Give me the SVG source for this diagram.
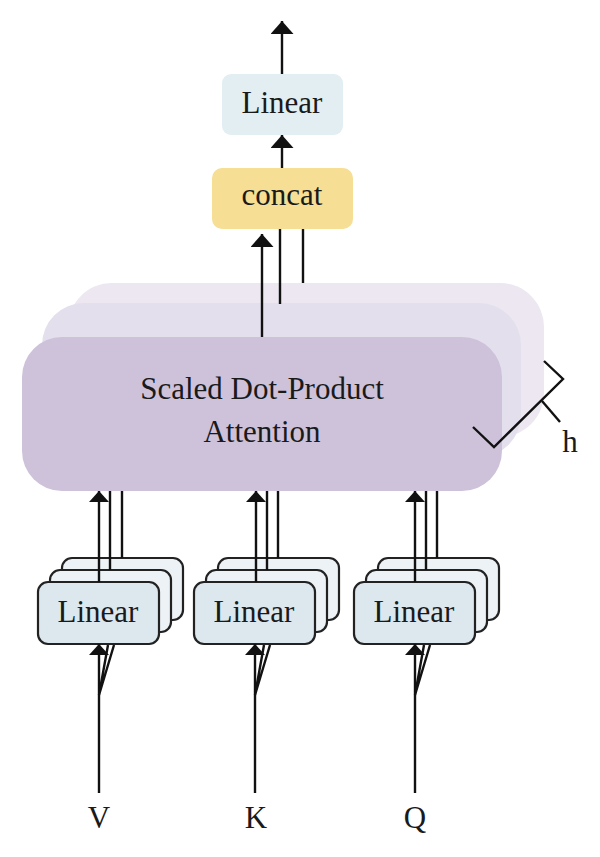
<svg xmlns="http://www.w3.org/2000/svg" width="600" height="857" viewBox="0 0 600 857">
<style>
  .t { font-family: "Liberation Serif", "DejaVu Serif", serif; fill: #1a1a1a; text-anchor: middle; }
  .ln { stroke: #111; stroke-width: 2.4; fill: none; }
  .lin { fill: #dce8ee; stroke: #222; stroke-width: 2.2; }
  .linb { fill: #ecf2f5; stroke: #222; stroke-width: 2.2; }
</style>
<defs>
  <marker id="ah" viewBox="0 0 13 23" refX="13" refY="11.5" markerWidth="13" markerHeight="23" markerUnits="userSpaceOnUse" orient="auto">
    <path d="M0,0 L13,11.5 L0,23 z" fill="#111"/>
  </marker>
  <marker id="as" viewBox="0 0 11 20" refX="11" refY="10" markerWidth="11" markerHeight="20" markerUnits="userSpaceOnUse" orient="auto">
    <path d="M0,0 L11,10 L0,20 z" fill="#111"/>
  </marker>
</defs>
<rect width="600" height="857" fill="#fff"/>

<g id="attention">
  <rect x="68" y="283" width="476" height="154" rx="44" fill="#ece7f0"/>
  <rect x="42" y="303" width="479" height="154" rx="42" fill="#e3dfed"/>
  <rect x="22" y="337" width="480" height="154" rx="40" fill="#cdc2da"/>
  <text class="t" x="262" y="399" font-size="31">Scaled Dot-Product</text>
  <text class="t" x="262" y="442" font-size="31">Attention</text>
</g>

<g id="h-bracket">
  <polyline class="ln" points="473,427 494,447 563,379 544,361"/>
  <line class="ln" x1="542" y1="401" x2="560" y2="422"/>
  <text class="t" x="570" y="452" font-size="31">h</text>
</g>

<g id="linear-top">
  <rect x="222" y="74" width="121" height="61" rx="9" fill="#e3eef3"/>
  <text class="t" x="282" y="113" font-size="31">Linear</text>
</g>

<g id="concat">
  <rect x="212" y="168" width="141" height="61" rx="10" fill="#f6de95"/>
  <text class="t" x="282" y="205" font-size="31">concat</text>
</g>

<g id="linear-v">
  <rect class="linb" x="62" y="558" width="121" height="62" rx="10"/>
  <rect class="linb" x="50" y="570" width="121" height="62" rx="10"/>
  <rect class="lin" x="38" y="582" width="121" height="62" rx="10"/>
  <text class="t" x="98" y="622" font-size="31">Linear</text>
</g>
<g id="linear-k">
  <rect class="linb" x="218" y="558" width="121" height="62" rx="10"/>
  <rect class="linb" x="206" y="570" width="121" height="62" rx="10"/>
  <rect class="lin" x="194" y="582" width="121" height="62" rx="10"/>
  <text class="t" x="254" y="622" font-size="31">Linear</text>
</g>
<g id="linear-q">
  <rect class="linb" x="378" y="558" width="121" height="62" rx="10"/>
  <rect class="linb" x="366" y="570" width="121" height="62" rx="10"/>
  <rect class="lin" x="354" y="582" width="121" height="62" rx="10"/>
  <text class="t" x="414" y="622" font-size="31">Linear</text>
</g>

<g id="labels">
  <text class="t" x="99" y="828" font-size="31">V</text>
  <text class="t" x="256" y="828" font-size="31">K</text>
  <text class="t" x="415" y="828" font-size="31">Q</text>
</g>

<g id="connectors">
  <line class="ln" x1="282" y1="74" x2="282" y2="21" marker-end="url(#ah)"/>
  <line class="ln" x1="282" y1="168" x2="282" y2="135" marker-end="url(#ah)"/>
  <line class="ln" x1="262" y1="337" x2="262" y2="234" marker-end="url(#ah)"/>
  <line class="ln" x1="280" y1="229" x2="280" y2="304"/>
  <line class="ln" x1="303" y1="229" x2="303" y2="283"/>

  <line class="ln" x1="99" y1="582" x2="99" y2="491" marker-end="url(#as)"/>
  <line class="ln" x1="110" y1="570" x2="110" y2="491"/>
  <line class="ln" x1="122" y1="558" x2="122" y2="491"/>
  <line class="ln" x1="256" y1="582" x2="256" y2="491" marker-end="url(#as)"/>
  <line class="ln" x1="267" y1="570" x2="267" y2="491"/>
  <line class="ln" x1="278" y1="558" x2="278" y2="491"/>
  <line class="ln" x1="415" y1="582" x2="415" y2="491" marker-end="url(#as)"/>
  <line class="ln" x1="426" y1="570" x2="426" y2="491"/>
  <line class="ln" x1="437" y1="558" x2="437" y2="491"/>

  <line class="ln" x1="99" y1="793" x2="99" y2="644" marker-end="url(#as)"/>
  <polyline class="ln" points="108,645 99,695 114,645"/>
  <line class="ln" x1="255" y1="793" x2="255" y2="644" marker-end="url(#as)"/>
  <polyline class="ln" points="264,645 255,695 270,645"/>
  <line class="ln" x1="415" y1="793" x2="415" y2="644" marker-end="url(#as)"/>
  <polyline class="ln" points="424,645 415,695 430,645"/>
</g>
</svg>
